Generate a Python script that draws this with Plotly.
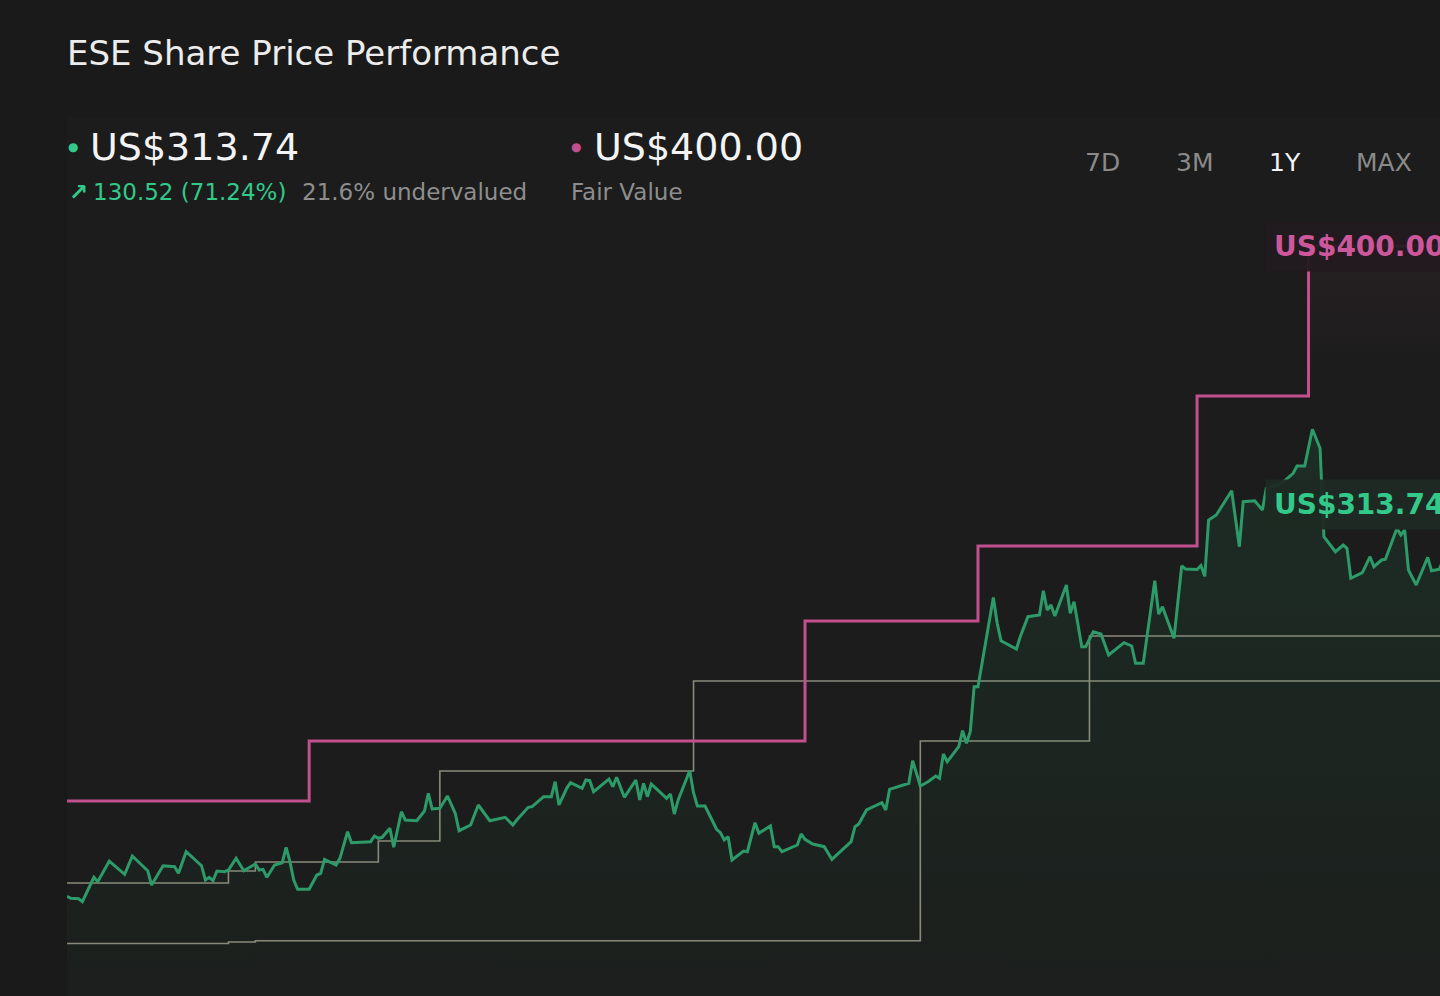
import plotly.graph_objects as go
import pandas as pd

# Data (day offsets from start of the 1Y window)
start = pd.Timestamp("2025-02-24")

price_days = [0, 1, 3, 4, 7, 8, 11, 15, 17, 21, 22, 25, 28, 29, 31, 35, 36, 37, 38, 39,
              41, 42, 44, 46, 49, 50, 51, 52, 54, 56, 57, 58, 59, 60, 63, 64, 65, 66, 67, 70,
              71, 73, 74, 79, 80, 81, 82, 84, 85, 87, 88, 91, 93, 94, 95, 97, 99, 101, 102, 105,
              107, 110, 114, 116, 117, 120, 121, 124, 126, 127, 128, 130, 131, 134, 135, 136, 137, 141, 142, 143,
              145, 148, 149, 150, 151, 152, 156, 157, 158, 159, 162, 163, 164, 166, 169, 170, 171, 172, 173, 176,
              177, 179, 180, 183, 184, 185, 186, 190, 191, 192, 194, 197, 199, 204, 205, 206, 208, 212, 213, 214,
              219, 220, 222, 224, 226, 227, 228, 229, 232, 233, 234, 235, 236, 237, 241, 242, 243, 247, 248, 250,
              253, 254, 255, 256, 257, 260, 261, 262, 264, 265, 267, 269, 271, 275, 277, 278, 280, 283, 284, 285,
              288, 290, 291, 294, 295, 296, 297, 299, 303, 305, 306, 309, 311, 312, 316, 319, 320, 322, 324, 326,
              327, 330, 332, 333, 334, 337, 339, 340, 342, 343, 346, 347, 348, 349, 351, 354, 355, 357, 360, 363,
              365]
price_vals = [183.22, 182.57, 182.43, 181.43, 189.57, 188.10, 195.00, 190.57, 196.67, 191.77,
              187.00, 193.43, 193.10, 190.90, 198.10, 193.43, 188.67, 189.57, 188.43, 191.67,
              191.43, 192.00, 195.90, 191.77, 194.00, 192.00, 192.23, 189.57, 193.67, 194.43,
              199.57, 194.77, 188.67, 185.57, 185.57, 187.77, 190.33, 190.90, 195.57, 193.67,
              195.90, 204.77, 201.10, 201.43, 203.33, 202.57, 202.90, 205.90, 199.57, 211.43,
              208.67, 208.43, 211.67, 217.57, 212.33, 212.57, 216.67, 210.90, 205.10, 207.00,
              213.67, 208.43, 209.57, 207.00, 208.67, 212.90, 213.10, 216.43, 216.43, 221.43,
              213.67, 219.23, 221.10, 219.23, 222.00, 221.77, 218.10, 222.33, 219.77, 222.90,
              216.23, 222.00, 215.33, 220.90, 216.43, 220.67, 215.90, 217.33, 210.67, 215.33,
              225.10, 217.77, 213.33, 213.33, 205.57, 204.43, 202.00, 203.10, 195.33, 198.33,
              198.10, 207.77, 204.23, 206.67, 199.77, 199.77, 198.10, 200.33, 204.00, 202.23,
              200.67, 199.77, 195.57, 201.43, 206.43, 207.33, 212.00, 214.43, 212.00, 218.90,
              220.90, 228.43, 220.00, 221.43, 223.33, 222.57, 230.67, 228.10, 233.10, 238.43,
              234.23, 238.10, 253.10, 253.10, 282.83, 274.23, 268.43, 265.67, 269.77, 276.43,
              277.00, 285.10, 278.67, 280.33, 276.67, 287.00, 277.57, 281.43, 266.43, 266.43,
              271.43, 270.67, 263.67, 267.77, 266.67, 260.90, 260.90, 288.43, 277.33, 279.77,
              269.23, 293.33, 292.33, 292.17, 293.50, 289.90, 308.67, 310.33, 318.43, 299.77,
              314.77, 315.10, 312.00, 319.23, 320.90, 324.23, 326.67, 326.67, 338.90, 332.57,
              303.10, 298.10, 300.33, 299.23, 289.23, 291.10, 296.43, 293.10, 295.33, 295.57,
              305.90, 303.67, 305.33, 292.00, 287.00, 296.23, 291.77, 292.23, 301.00, 306.50,
              313.74]

fair_days = [0, 63, 192, 237, 294, 323, 365]
fair_vals = [215, 235, 275, 300, 350, 400, 400]

upper_days = [0, 42, 49, 81, 97, 163, 365]
upper_vals = [187.67, 191.67, 194.67, 201.67, 225, 255, 255]

lower_days = [0, 42, 49, 222, 266, 365]
lower_vals = [167.5, 168.0, 168.4, 235, 270, 270]

last_price = "US$313.74"
fair_value = "US$400.00"
change_text = "130.52 (71.24%)"
valuation_text = "21.6% undervalued"
periods = ["7D", "3M", "1Y", "MAX"]


def to_dates(days):
    return [start + pd.Timedelta(days=d) for d in days]


GREEN = "#2d9b69"
GREEN_TXT = "#33c98a"
PINK = "#c2508f"
PINK_TXT = "#cc579b"
GRAY = "#8c897c"
FONT = "DejaVu Sans"

fig = go.Figure()

fig.add_trace(go.Scatter(
    x=to_dates(lower_days), y=lower_vals, mode="lines", line_shape="hv",
    line=dict(color=GRAY, width=1.6), name="Low"))
fig.add_trace(go.Scatter(
    x=to_dates(upper_days), y=upper_vals, mode="lines", line_shape="hv",
    line=dict(color=GRAY, width=1.6), name="High"))
fig.add_trace(go.Scatter(
    x=to_dates(fair_days), y=fair_vals, mode="lines", line_shape="hv",
    line=dict(color=PINK, width=3), name="Fair Value",
    fill="tozeroy",
    fillgradient=dict(type="vertical", start=355, stop=400,
                      colorscale=[[0, "rgba(194,80,143,0)"], [1, "rgba(194,80,143,0.07)"]])))
fig.add_trace(go.Scatter(
    x=to_dates(price_days), y=price_vals, mode="lines",
    line=dict(color=GREEN, width=3), name="Share Price",
    fill="tozeroy",
    fillgradient=dict(type="vertical", start=150, stop=340,
                      colorscale=[[0, "rgba(46,158,107,0.02)"], [1, "rgba(46,158,107,0.13)"]])))

# pixel helpers for text placement
W, H, L, T = 1440, 996, 67, 117


def px(x):
    return (x - L) / (W - L)


def py(y):
    return (H - y) / (H - T)


ann = []


def text(x, y, s, size, color, anchor="left", bold=False):
    ann.append(dict(xref="paper", yref="paper", x=px(x), y=py(y), text=("<b>%s</b>" % s) if bold else s,
                    showarrow=False, xanchor=anchor, yanchor="middle",
                    font=dict(family=FONT, size=size, color=color)))


text(65, 53, "ESE Share Price Performance", 34, "#ececec")
text(66, 147, "●", 12, GREEN_TXT)
text(88, 147, last_price, 38, "#f4f4f4")
text(67, 192, "↗", 23, GREEN_TXT, bold=True)
text(91, 192, change_text, 23, GREEN_TXT)
text(300, 192, valuation_text, 23, "#8e8e8e")
text(569, 147, "●", 12, PINK)
text(592, 147, fair_value, 38, "#f4f4f4")
text(569, 192, "Fair Value", 23, "#8e8e8e")

for label, cx in zip(periods, [1102, 1194, 1285, 1384]):
    text(cx, 162, label, 25, "#f4f4f4" if label == "1Y" else "#8a8a8a", anchor="center")

for label, val, col, bg in [(fair_value, 400, PINK_TXT, "rgba(34,26,31,0.95)"),
                            (last_price, 313.74, GREEN_TXT, "rgba(30,42,35,0.95)")]:
    ann.append(dict(xref="paper", yref="y", x=px(1265), y=val, text="<b>%s</b>" % label,
                    showarrow=False, xanchor="left", yanchor="middle", bgcolor=bg, borderpad=8,
                    font=dict(family=FONT, size=28, color=col)))

fig.update_layout(
    width=W, height=H,
    margin=dict(l=L, r=0, t=T, b=0),
    paper_bgcolor="#1a1a1a",
    plot_bgcolor="#1b1c1b",
    showlegend=False,
    hovermode=False,
    font=dict(family=FONT),
    xaxis=dict(visible=False, range=[start, start + pd.Timedelta(days=357.2)]),
    yaxis=dict(visible=False, range=[150, 443]),
    annotations=ann,
)

fig.write_html("out.html", config={"displayModeBar": False},
               post_script="document.body.style.margin='0';document.body.style.overflow='hidden';")
